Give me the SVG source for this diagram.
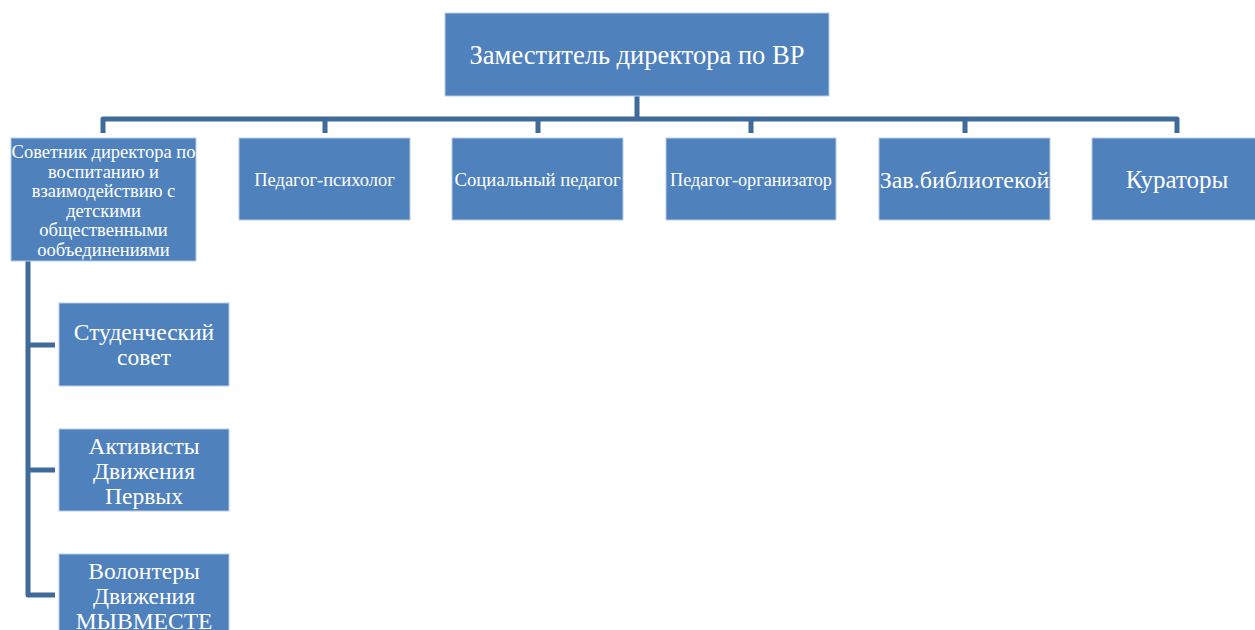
<svg xmlns="http://www.w3.org/2000/svg" width="1255" height="630" viewBox="0 0 1255 630">
<style>
.box{fill:#4F81BD;stroke:#B9CDE5;stroke-width:1}
.t{fill:#FFFFFF;font-family:"Liberation Serif","Times New Roman",serif;text-anchor:middle}
.c{fill:none;stroke:#3F6A9A;stroke-width:5;stroke-linejoin:round}
</style>
<rect width="1255" height="630" fill="#FFFFFF"/>
<g id="connectors">
<path class="c" d="M637 96 V119"/>
<path class="c" d="M103 133 V119 H1177 V133"/>
<path class="c" d="M325 119 V133 M538 119 V133 M751 119 V133 M965 119 V133"/>
<path class="c" d="M28 261 V595 H55 M28 345 H55 M28 470 H55"/>
</g>
<g id="n-zam"><rect class="box" x="445" y="13" width="384" height="83"/><text class="t" x="637" y="64" font-size="26.5">Заместитель директора по ВР</text></g>
<g id="n-sovetnik"><rect class="box" x="11" y="138" width="185" height="123"/>
<text class="t" font-size="18.5" x="103.5"><tspan x="103.5" y="158">Советник директора по</tspan><tspan x="103.5" y="177.5">воспитанию и</tspan><tspan x="103.5" y="197">взаимодействию с</tspan><tspan x="103.5" y="216.5">детскими</tspan><tspan x="103.5" y="236">общественными</tspan><tspan x="103.5" y="255.5">ообъединениями</tspan></text></g>
<g id="n-psih"><rect class="box" x="239" y="138" width="171" height="82"/><text class="t" x="324.5" y="186" font-size="18.5">Педагог-психолог</text></g>
<g id="n-soc"><rect class="box" x="452" y="138" width="171" height="82"/><text class="t" x="537.5" y="186" font-size="18.8">Социальный педагог</text></g>
<g id="n-org"><rect class="box" x="666" y="138" width="170" height="82"/><text class="t" x="751" y="186" font-size="18.2">Педагог-организатор</text></g>
<g id="n-bib"><rect class="box" x="879" y="138" width="171" height="82"/><text class="t" x="964.5" y="188" font-size="24">Зав.библиотекой</text></g>
<g id="n-kur"><rect class="box" x="1092" y="138" width="170" height="82"/><text class="t" x="1177" y="188" font-size="25">Кураторы</text></g>
<g id="n-stud"><rect class="box" x="59" y="303" width="170" height="83"/><text class="t" font-size="23.5"><tspan x="144" y="340">Студенческий</tspan><tspan x="144" y="365">совет</tspan></text></g>
<g id="n-akt"><rect class="box" x="59" y="429" width="170" height="82"/><text class="t" font-size="23.5"><tspan x="144" y="454">Активисты</tspan><tspan x="144" y="479">Движения</tspan><tspan x="144" y="504">Первых</tspan></text></g>
<g id="n-vol"><rect class="box" x="59" y="554" width="170" height="90"/><text class="t" font-size="23.5"><tspan x="144" y="579">Волонтеры</tspan><tspan x="144" y="604">Движения</tspan><tspan x="144" y="629">МЫВМЕСТЕ</tspan></text></g>
</svg>
